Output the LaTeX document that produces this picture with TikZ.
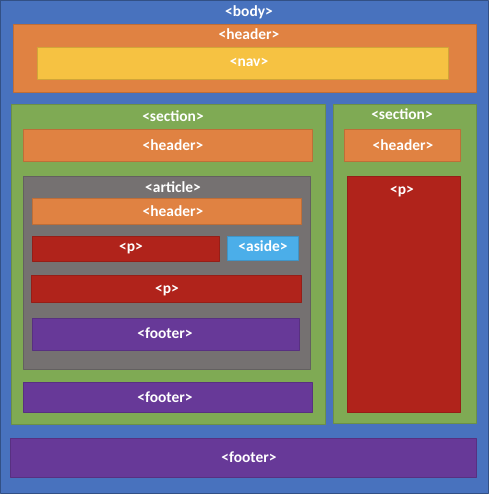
\documentclass[tikz,border=0pt]{standalone}
\usepackage{fontspec}
\setmainfont{Carlito}
\definecolor{bodycol}{RGB}{72,114,190}
\definecolor{headercol}{RGB}{224,130,66}
\definecolor{navcol}{RGB}{246,194,66}
\definecolor{sectioncol}{RGB}{127,170,84}
\definecolor{articlecol}{RGB}{117,113,113}
\definecolor{pcol}{RGB}{176,35,27}
\definecolor{asidecol}{RGB}{75,174,233}
\definecolor{footercol}{RGB}{103,57,152}
\begin{document}
\begin{tikzpicture}[line join=bevel,
  box/.style={fill=#1,draw=#1!85!black,line width=0.8bp},
  tag/.style={text=white,font=\fontsize{15.5}{18}\selectfont\bfseries,inner sep=0pt,anchor=base,yshift=-5bp}]
  \useasboundingbox (0bp,0bp) rectangle (489bp,494bp);
%%
  % Box: body
  \draw [box=bodycol,draw=bodycol!70!black,line width=1.2bp] (0.6bp,0.6bp) rectangle (488.4bp,493.4bp);
  \node [tag] (bodytag) at (249bp,482bp) {<body>};
  % Box: header
  \draw [box=headercol] (13bp,402bp) rectangle (476bp,470bp);
  \node [tag] (headertag) at (249bp,459bp) {<header>};
  % Box: nav
  \draw [box=navcol] (37bp,415bp) rectangle (448bp,447bp);
  \node [tag] (navtag) at (249bp,432bp) {<nav>};
  % Box: section (left)
\begin{scope}
  \draw [box=sectioncol] (11bp,70bp) rectangle (325bp,390bp);
  \node [tag] (sectiontag) at (173bp,377bp) {<section>};
  \draw [box=headercol] (23bp,333bp) rectangle (312bp,365bp);
  \node [tag] (sectionheadertag) at (173bp,348bp) {<header>};
  % Box: article
  \draw [box=articlecol] (23bp,125bp) rectangle (310bp,318bp);
  \node [tag] (articletag) at (173bp,306bp) {<article>};
  \draw [box=headercol] (32bp,270bp) rectangle (301bp,296bp);
  \node [tag] (articleheadertag) at (173bp,282bp) {<header>};
  \draw [box=pcol] (32bp,233bp) rectangle (219bp,258bp);
  \node [tag] (ptagA) at (131bp,247bp) {<p>};
  \draw [box=asidecol] (227bp,234bp) rectangle (298bp,258bp);
  \node [tag] (asidetag) at (263bp,247bp) {<aside>};
  \draw [box=pcol] (31bp,192bp) rectangle (301bp,219bp);
  \node [tag] (ptagB) at (167bp,205bp) {<p>};
  \draw [box=footercol] (32bp,144bp) rectangle (299bp,176bp);
  \node [tag] (articlefootertag) at (165bp,160bp) {<footer>};
  % Box: footer of section
  \draw [box=footercol] (23bp,82bp) rectangle (312bp,112bp);
  \node [tag] (sectionfootertag) at (165bp,96bp) {<footer>};
\end{scope}
  % Box: section (right)
\begin{scope}
  \draw [box=sectioncol] (333bp,71bp) rectangle (476bp,390bp);
  \node [tag] (asidesectiontag) at (402bp,379bp) {<section>};
  \draw [box=headercol] (344bp,333bp) rectangle (460bp,365bp);
  \node [tag] (asideheadertag) at (403bp,348bp) {<header>};
  \draw [box=pcol] (347bp,82bp) rectangle (460bp,318bp);
  \node [tag] (ptagC) at (402bp,304bp) {<p>};
\end{scope}
  % Box: footer of body
  \draw [box=footercol] (10bp,17bp) rectangle (476bp,56bp);
  \node [tag] (bodyfootertag) at (249bp,37bp) {<footer>};
%
\end{tikzpicture}
\end{document}
